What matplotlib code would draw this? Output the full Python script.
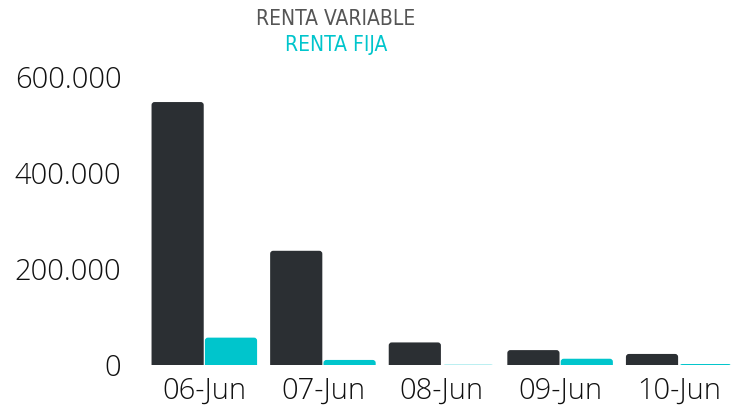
import numpy as np
import matplotlib
matplotlib.use("Agg")
import matplotlib.pyplot as plt
from matplotlib.ticker import FuncFormatter
from matplotlib.patches import FancyBboxPatch
from matplotlib import font_manager

days = ["06-Jun", "07-Jun", "08-Jun", "09-Jun", "10-Jun"]
renta_variable = [548000, 238000, 47000, 31000, 23000]
renta_fija = [57000, 10500, 500, 13000, 2000]

dark = "#2b2f33"
cyan = "#00c5cc"

fig = plt.figure(figsize=(7.38, 4.2), dpi=100)
ax = fig.add_axes([0.1965, 0.131, 0.8035, 0.714])

x = np.arange(len(days))
w = 0.44
b1 = ax.bar(x - w / 2 - 0.005, renta_variable, w, color=dark)
b2 = ax.bar(x + w / 2 + 0.005, renta_fija, w, color=cyan)

ax.set_xlim(-0.5, len(days) - 0.5)
ax.set_ylim(0, 625000)

# swap plain bars for ones with slightly rounded tops
xpp = 1 / 118.5      # data units per pixel, x
ypp = 200000 / 96    # data units per pixel, y
r = 3
for bars in (b1, b2):
    for p in bars:
        p.set_visible(False)
        bx, by, bw, bh = p.get_x(), p.get_y(), p.get_width(), p.get_height()
        fp = FancyBboxPatch((bx, by - r * ypp), bw, bh + r * ypp,
                            boxstyle=f"round,pad=0,rounding_size={r * xpp}",
                            mutation_aspect=ypp / xpp,
                            fc=p.get_facecolor(), ec="none")
        ax.add_patch(fp)

ax.set_yticks([0, 200000, 400000, 600000])
ax.yaxis.set_major_formatter(FuncFormatter(lambda v, p: f"{int(v):,}".replace(",", ".")))
ax.set_xticks(x)
ax.set_xticklabels(days)

for s in ax.spines.values():
    s.set_visible(False)
ax.tick_params(length=0, labelsize=21, labelcolor="#111111", pad=17)
ax.tick_params(axis="x", pad=8)
for lab in ax.get_xticklabels() + ax.get_yticklabels():
    lab.set_family(["Open Sans", "DejaVu Sans"])
    lab.set_fontweight("light")

# legend as stacked text, narrow font
fp_leg = font_manager.FontProperties(family="DejaVu Sans", stretch="condensed", size=15)
fig.text(0.455, 0.955, "RENTA VARIABLE", color="#555555", ha="center", va="center",
         fontproperties=fp_leg)
fig.text(0.455, 0.893, "RENTA FIJA", color=cyan, ha="center", va="center",
         fontproperties=fp_leg)

fig.savefig("out.png", dpi=100)
